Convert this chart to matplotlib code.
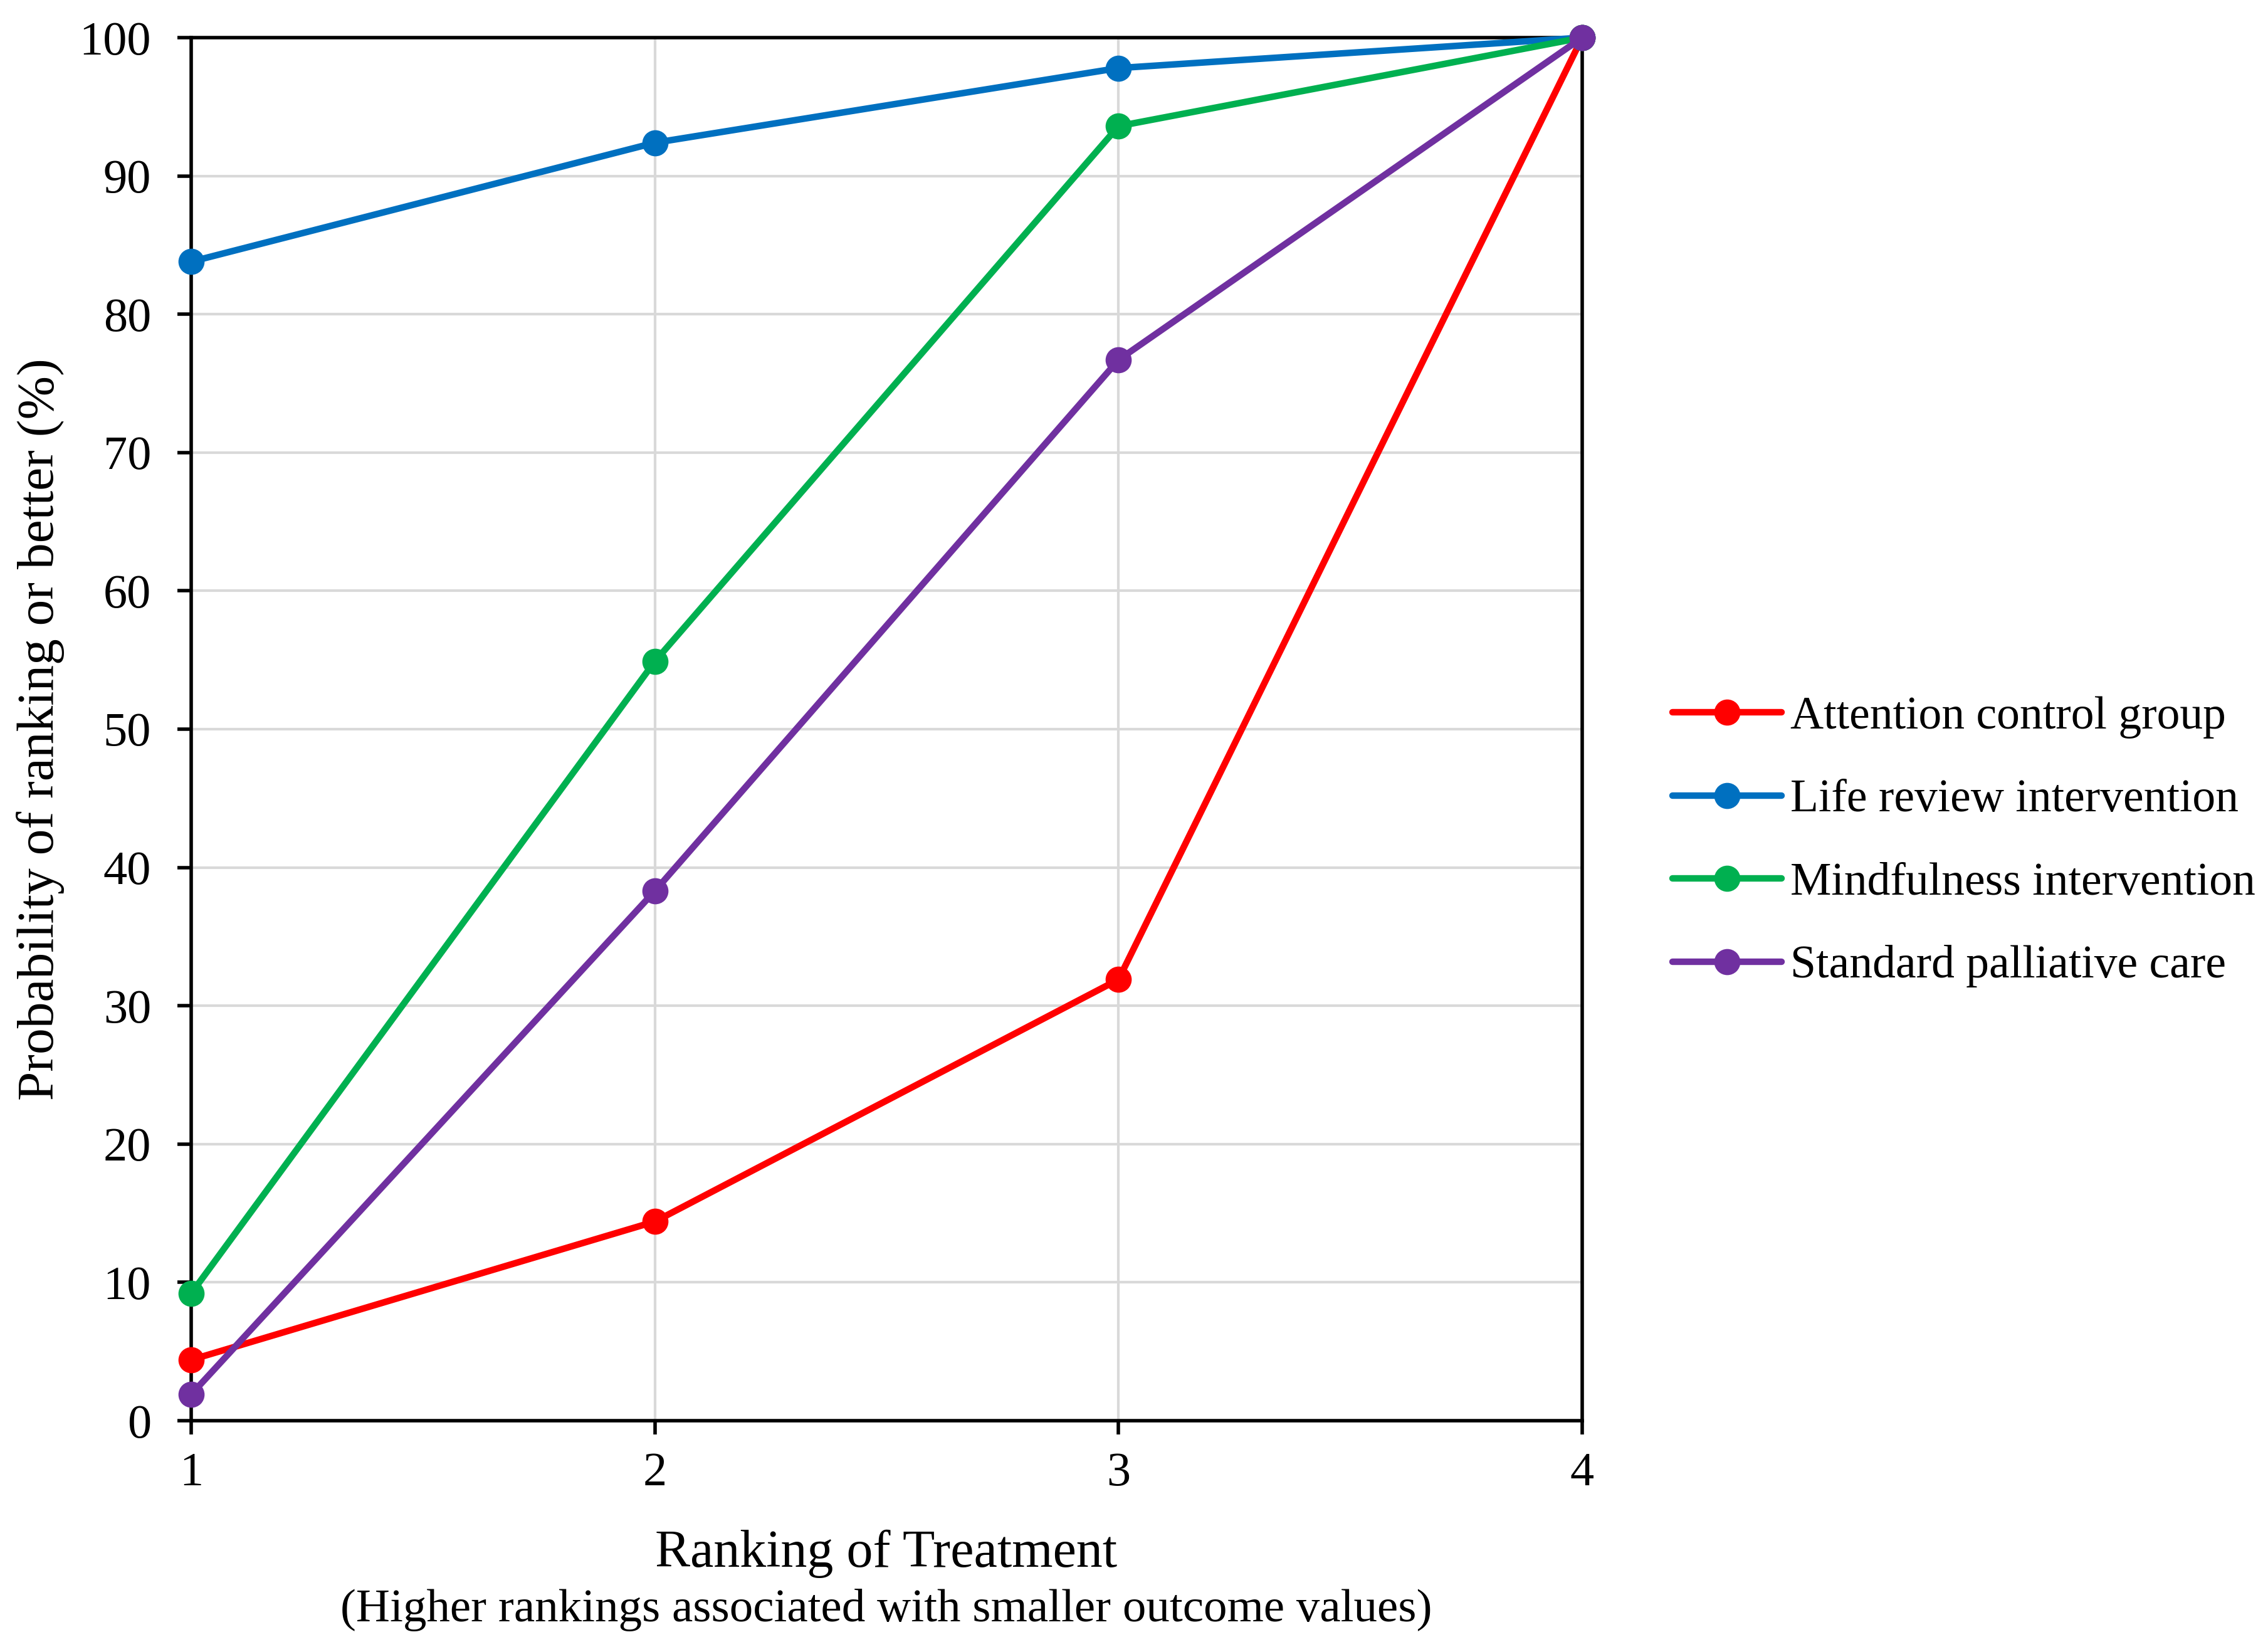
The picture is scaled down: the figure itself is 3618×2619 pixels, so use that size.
import matplotlib
matplotlib.use("Agg")
import matplotlib.pyplot as plt

plt.rcParams['font.family'] = ['Liberation Serif', 'DejaVu Serif']

ranks = [1, 2, 3, 4]
series_names = ["Attention control group", "Life review intervention",
                "Mindfulness intervention", "Standard palliative care"]
attention = [4.4, 14.4, 31.9, 100]
life_review = [83.8, 92.4, 97.8, 100]
mindfulness = [9.2, 54.9, 93.6, 100]
standard = [1.9, 38.3, 76.7, 100]
colors = ["#FF0000", "#0070C0", "#00B050", "#7030A0"]
yticks = [0, 10, 20, 30, 40, 50, 60, 70, 80, 90, 100]

fig = plt.figure(figsize=(36.18, 26.19), dpi=100)
ax = fig.add_axes([305/3618, 1 - 2266/2619, (2524-305)/3618, (2266-60)/2619])

for vals, name, c in zip([attention, life_review, mindfulness, standard], series_names, colors):
    ax.plot(ranks, vals, color=c, lw=7.5, marker='o', markersize=29,
            label=name, clip_on=False, zorder=3, solid_capstyle='round')

ax.set_xlim(1, 4)
ax.set_ylim(0, 100)
ax.set_xticks(ranks)
ax.set_yticks(yticks)
ax.grid(True, color='#d9d9d9', lw=3, zorder=0)
ax.set_axisbelow(True)
for s in ax.spines.values():
    s.set_linewidth(4)
    s.set_color('black')
ax.tick_params(axis='both', direction='out', length=16, width=4, labelsize=55, color='black')
ax.tick_params(axis='y', pad=30)
ax.tick_params(axis='x', pad=20)

fig.text(1414/3618, 1 - 2499/2619, "Ranking of Treatment", ha='center', va='baseline', fontsize=60.5)
fig.text(1414/3618, 1 - 2586/2619, "(Higher rankings associated with smaller outcome values)",
         ha='center', va='baseline', fontsize=54)
fig.text(0.0177, 1 - 1163/2619, "Probability of ranking or better (%)", rotation=90,
         ha='center', va='center', fontsize=60)

fig.legend(loc='center left', bbox_to_anchor=(2668/3618, 1 - 1343/2619), frameon=False,
           fontsize=53, handlelength=2.36, handletextpad=0.2, labelspacing=0.88,
           borderpad=0, borderaxespad=0)

fig.savefig("out.png", dpi=100)
